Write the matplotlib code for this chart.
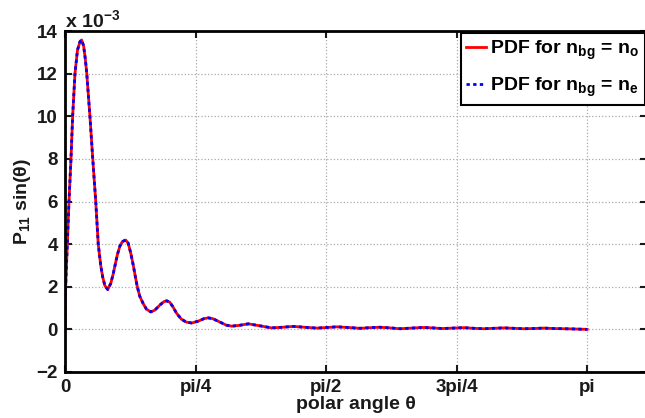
import numpy as np
import matplotlib
matplotlib.use("Agg")
import matplotlib.pyplot as plt

plt.rcParams['font.family'] = ['Liberation Sans', 'DejaVu Sans']
plt.rcParams['font.weight'] = 'bold'
plt.rcParams['mathtext.fontset'] = 'custom'
plt.rcParams['mathtext.rm'] = 'Liberation Sans:bold'
plt.rcParams['mathtext.it'] = 'Liberation Sans:bold'
plt.rcParams['mathtext.bf'] = 'Liberation Sans:bold'
plt.rcParams['mathtext.sf'] = 'Liberation Sans:bold'

# polar angle (rad) and P11*sin(theta) in units of 1e-3
theta = [0.000, 0.004, 0.014, 0.024, 0.036, 0.046, 0.060, 0.075, 0.090, 0.100,
         0.112, 0.122, 0.131, 0.150, 0.167, 0.185, 0.200, 0.215, 0.227, 0.240,
         0.257, 0.275, 0.290, 0.301, 0.315, 0.330, 0.345, 0.365, 0.380, 0.395,
         0.411, 0.425, 0.435, 0.450, 0.471, 0.490, 0.516, 0.540, 0.572, 0.595,
         0.612, 0.630, 0.650, 0.672, 0.700, 0.730, 0.762, 0.800, 0.835, 0.862,
         0.890, 0.930, 0.970, 1.003, 1.050, 1.103, 1.170, 1.243, 1.310, 1.372,
         1.440, 1.516, 1.580, 1.636, 1.700, 1.775, 1.835, 1.895, 1.955, 2.016,
         2.085, 2.154, 2.210, 2.270, 2.335, 2.400, 2.460, 2.520, 2.580, 2.640,
         2.700, 2.760, 2.820, 2.880, 2.940, 3.000, 3.060, 3.100, 3.1416]
pdf_o = [0.00, 2.00, 4.00, 6.00, 8.00, 10.00, 12.00, 13.10, 13.50, 13.58,
         13.30, 12.70, 12.00, 10.00, 8.00, 6.00, 4.00, 3.00, 2.45, 2.05,
         1.87, 2.15, 2.60, 3.00, 3.50, 3.90, 4.12, 4.19, 4.05, 3.60,
         3.00, 2.40, 2.00, 1.55, 1.20, 0.95, 0.82, 0.90, 1.15, 1.30,
         1.34, 1.28, 1.05, 0.75, 0.48, 0.34, 0.30, 0.38, 0.50, 0.54,
         0.50, 0.35, 0.20, 0.15, 0.19, 0.26, 0.17, 0.07, 0.10, 0.14,
         0.10, 0.06, 0.09, 0.12, 0.09, 0.05, 0.08, 0.10, 0.07, 0.03,
         0.06, 0.09, 0.07, 0.04, 0.06, 0.08, 0.05, 0.03, 0.05, 0.07,
         0.05, 0.03, 0.04, 0.06, 0.04, 0.03, 0.02, 0.01, 0.00]
pdf_e = list(pdf_o)

xticks = [0, np.pi / 4, np.pi / 2, 3 * np.pi / 4, np.pi]
xticklabels = ['0', 'pi/4', 'pi/2', '3pi/4', 'pi']
yticks = [-2, 0, 2, 4, 6, 8, 10, 12, 14]
yticklabels = ['\u22122', '0', '2', '4', '6', '8', '10', '12', '14']

fig = plt.figure(figsize=(6.45, 4.18), dpi=100)
ax = fig.add_axes([65 / 645, 46 / 418, 581.7 / 645, 341 / 418])

ax.plot(theta, pdf_o, color='red', lw=2, label=r'PDF for n$_{bg}$ = n$_{o}$')
ax.plot(theta, pdf_e, color='blue', lw=2, linestyle=(0, (1.2, 1.2)),
        label=r'PDF for n$_{bg}$ = n$_{e}$')

ax.set_xlim(0, 3.5)
ax.set_ylim(-2, 14)
ax.set_xticks(xticks)
ax.set_xticklabels(xticklabels)
ax.set_yticks(yticks)
ax.set_yticklabels(yticklabels)
ax.tick_params(direction='in', top=True, right=True, length=5, width=1.5,
               labelsize=13.5, colors='#1a1a1a', pad=5)
for lbl in ax.get_xticklabels() + ax.get_yticklabels():
    lbl.set_fontweight('bold')
for s in ax.spines.values():
    s.set_linewidth(2)
ax.grid(True, linestyle=':', color='#aaaaaa', lw=0.9)

ax.set_xlabel('polar angle θ', fontsize=14, fontweight='bold', labelpad=0,
              color='#1a1a1a')
ax.set_ylabel(r'P$_{11}$ sin(θ)', fontsize=14, fontweight='bold', labelpad=3,
              color='#1a1a1a')
ax.text(0.0, 1.0, r'x 10$^{-3}$', transform=ax.transAxes, ha='left', va='bottom',
        fontsize=14, fontweight='bold', color='#1a1a1a')

leg = ax.legend(loc='upper right', borderaxespad=0.1, fancybox=False,
                handlelength=1.0, handletextpad=0.2, labelspacing=0.7,
                borderpad=0.3, prop={'size': 14, 'weight': 'bold'})
leg.get_frame().set_edgecolor('black')
leg.get_frame().set_linewidth(1.5)
leg.get_frame().set_alpha(1)

fig.savefig('out.png', dpi=100)
